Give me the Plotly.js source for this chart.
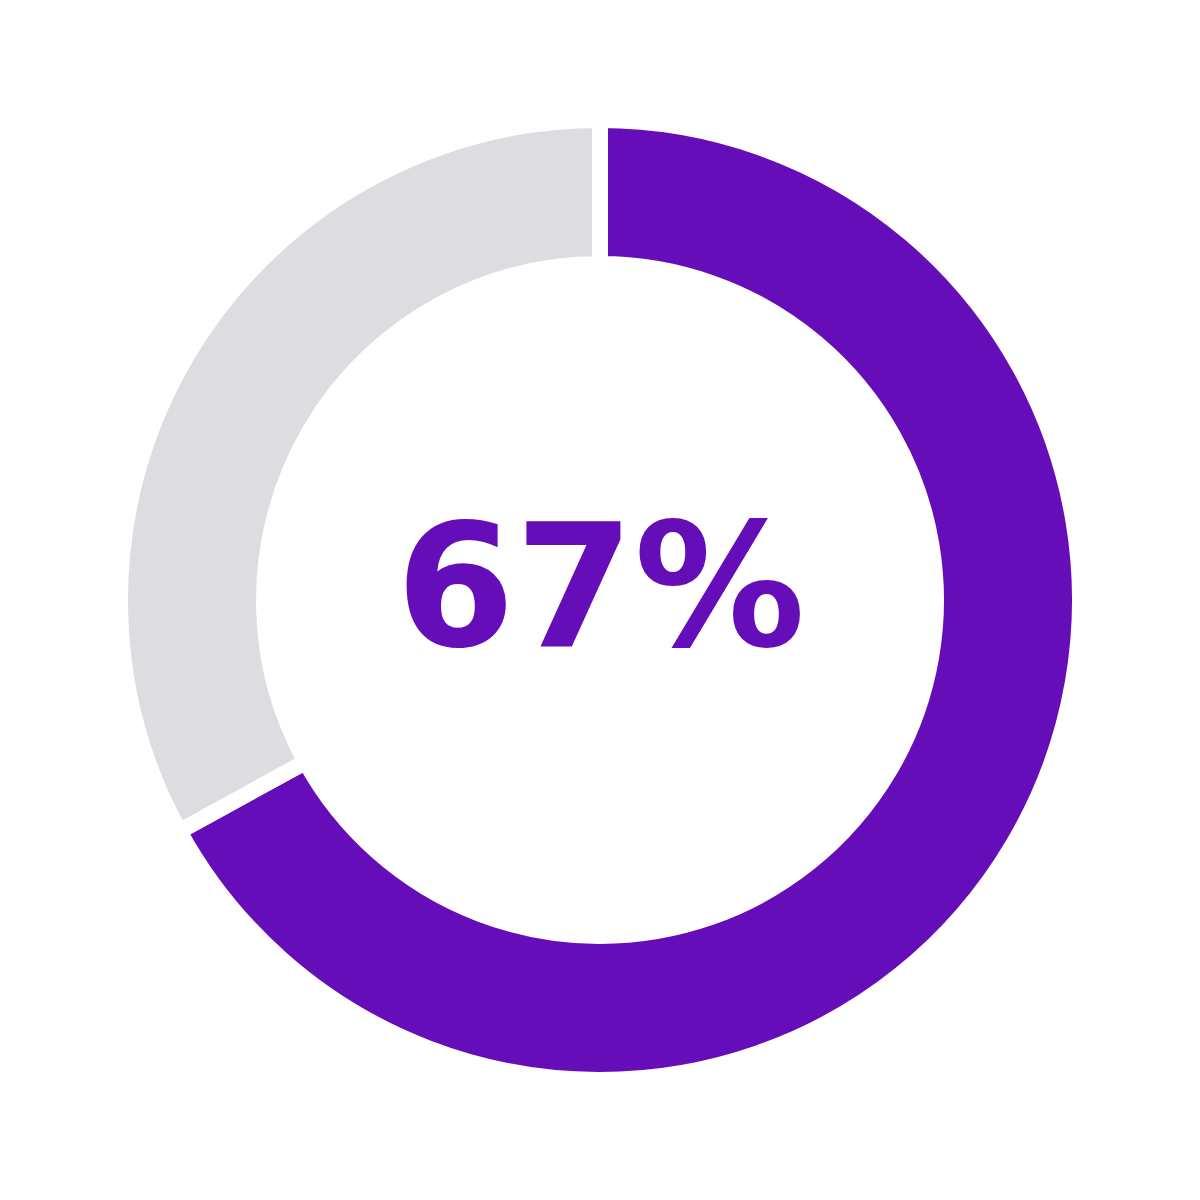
<!DOCTYPE html>
<html>
<head>
<meta charset="utf-8">
<script src="https://cdn.plot.ly/plotly-3.0.1.min.js"></script>
<style>
  html, body { margin: 0; padding: 0; background: #fff; }
  #chart { width: 1200px; height: 1200px; }
</style>
</head>
<body>
<div id="chart"></div>
<script>
// 진행률 도넛
const LABELS = ['완료', '남음'];
const VALUES = [67, 33];
const COLORS = ['#650DB8', '#DDDCE1'];
const CENTER_TEXT = '67%';

const trace = {
  type: 'pie',
  labels: LABELS,
  values: VALUES,
  hole: 0.7,
  sort: false,
  direction: 'clockwise',
  rotation: 0,
  textinfo: 'none',
  hoverinfo: 'skip',
  marker: { colors: COLORS, line: { color: '#ffffff', width: 16 } },
  domain: { x: [0.1, 0.9], y: [0.1, 0.9] },
};

const layout = {
  width: 1200, height: 1200,
  margin: { l: 0, r: 0, t: 0, b: 0 },
  paper_bgcolor: '#ffffff',
  showlegend: false,
  annotations: [{
    text: '<b>' + CENTER_TEXT + '</b>',
    x: 0.5, y: 0.5115, xref: 'paper', yref: 'paper',
    showarrow: false,
    font: { family: 'DejaVu Sans', size: 171, color: '#650DB8' },
  }],
};

Plotly.newPlot('chart', [trace], layout, { displayModeBar: false, staticPlot: true });
</script>
</body>
</html>
